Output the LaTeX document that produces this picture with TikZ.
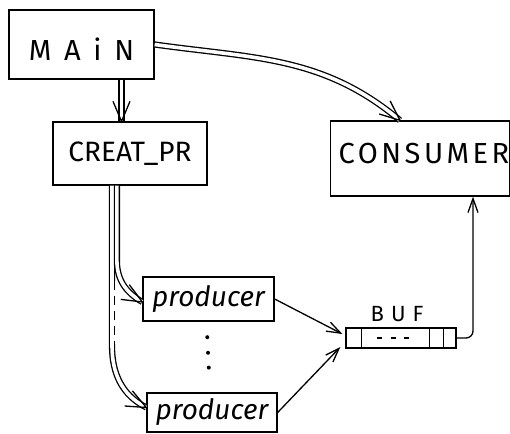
\documentclass[tikz,border=0pt]{standalone}
\usepackage{fontspec}
\newfontfamily\handfont{Fira Sans}
\usetikzlibrary{arrows.meta, decorations.markings, calc}

\tikzset{
  box/.style={draw, inner sep=0pt},
  lbl/.style={font=\handfont\fontsize{28}{30}\selectfont},
  dbl/.style={double, double distance=3.6pt},
  dbltip/.style={postaction={decorate, decoration={markings,
      mark=at position 1 with {\draw (-20pt,8.5pt) -- (0,0) -- (-20pt,-8.5pt);}}}},
  sgl/.style={-{Straight Barb[length=14pt,width=10pt]}},
}

\begin{document}
\begin{tikzpicture}[x=1pt,y=1pt,line width=1.3pt]
  \useasboundingbox (0,0) rectangle (510,-433);

  % boxes
  \node[box, lbl, minimum width=145pt, minimum height=69pt, text height=33pt, text depth=0pt]
    (main) at (81.5,-44.5)
    {\fontsize{29}{30}\selectfont\addfontfeature{LetterSpace=44}MAiN};
  \node[box, lbl, minimum width=154pt, minimum height=63pt] (creat) at (130,-153.5)
    {CREAT\_PR};
  \node[box, lbl, minimum width=178pt, minimum height=75pt, text height=20pt, text depth=11pt]
    (cons) at (420,-158.5)
    {\hspace*{8pt}\fontsize{29}{30}\selectfont\addfontfeature{LetterSpace=12}CONSUMER};
  \node[box, lbl, minimum width=131pt, minimum height=44pt] (prod1) at (208.5,-299)
    {\itshape producer};
  \node[box, lbl, minimum width=130pt, minimum height=39pt] (prod2) at (212,-412.5)
    {\itshape producer};

  % buffer
  \node[box, minimum width=110pt, minimum height=20pt] (buf) at (401,-338) {};
  \node[font=\handfont\fontsize{22}{24}\selectfont] (buflbl) at (397,-314)
    {\addfontfeature{LetterSpace=32}BUF};
  \draw ([xshift=16pt]buf.north west) -- ([xshift=16pt]buf.south west);
  \foreach \d in {13,27}
    \draw ([xshift=-\d pt]buf.north east) -- ([xshift=-\d pt]buf.south east);
  \draw[dash pattern=on 5pt off 8.5pt] ([xshift=-24pt]buf.center) -- ([xshift=8pt]buf.center);

  % dots between producers
  \foreach \f in {0.22,0.44,0.65}
    \fill ([xshift=-2pt]$(prod1.south)!\f!(prod2.north)$) circle (2pt);

  % calls
  \coordinate (a1) at ([xshift=-8.5pt]creat.north);
  \draw[dbl, dbltip] (a1 |- main.south) -- (a1);
  \draw[dbl, dbltip] (main.east) to[out=-8, in=140] ([xshift=-20pt]cons.north);

  % creation of producers
  \draw[dbl, dbltip] ([xshift=-18pt]creat.south) -- ++(0,-160)
    to[out=-90, in=153] ([yshift=5pt]prod2.west);
  \draw[white, line width=2.4pt] ($(creat.south)+(-15.45,-95)$) -- ++(0,-63);
  \draw[dash pattern=on 9pt off 6pt] ($(creat.south)+(-15.45,-95)$) -- ++(0,-63);
  \draw[dbl, dbltip] ([xshift=-13.1pt]creat.south) -- ++(0,-75)
    to[out=-90, in=150] ([yshift=-3pt]prod1.west);

  % data flow
  \draw[sgl] (prod1.east) -- ([shift={(-3pt,4pt)}]buf.west);
  \draw[sgl] (prod2.east) -- ([shift={(-5pt,-9pt)}]buf.west);
  \draw[sgl, rounded corners=7pt] (buf.east) -| ([xshift=53pt]cons.south);
\end{tikzpicture}
\end{document}
